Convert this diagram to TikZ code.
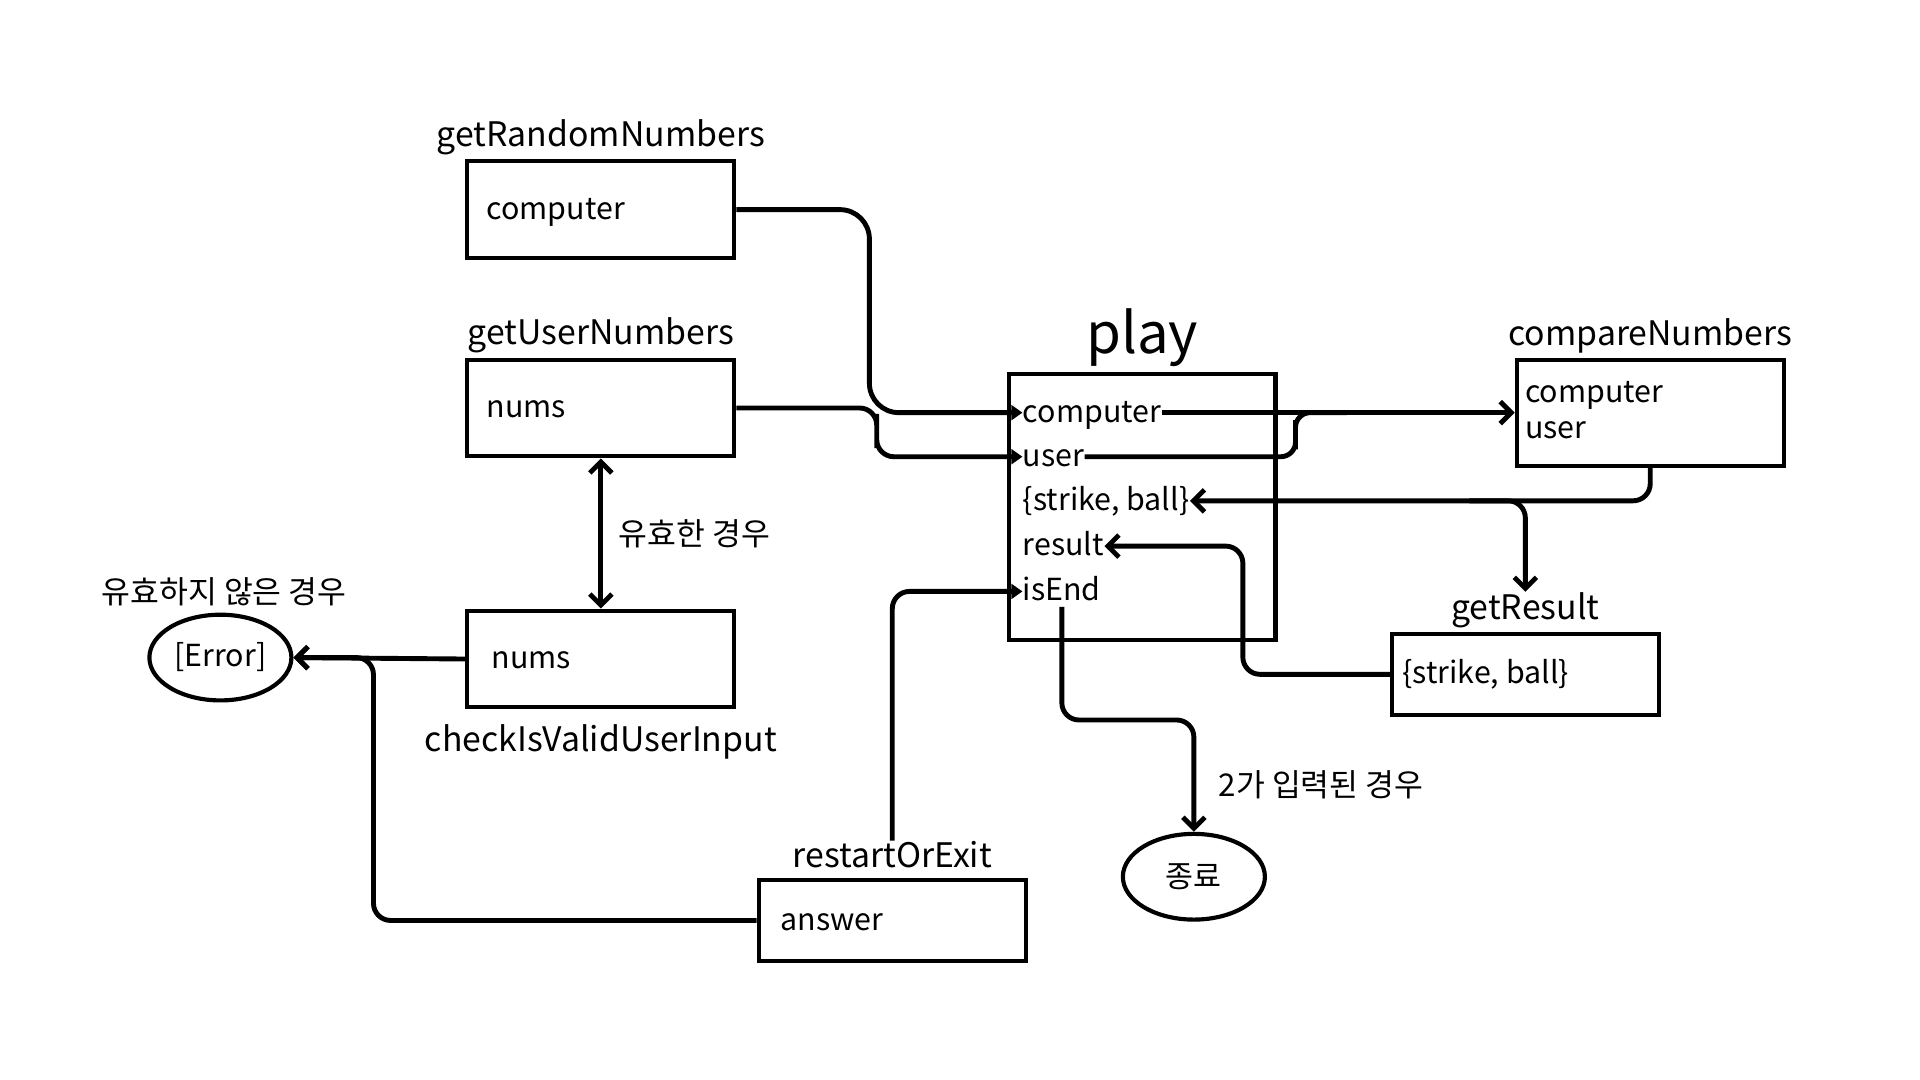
\documentclass[tikz,border=0pt]{standalone}
\usepackage{fontspec}
\setmainfont{Noto Sans CJK KR}
\usetikzlibrary{positioning,shapes.geometric,arrows.meta}

\tikzset{
  fnbox/.style={draw, line width=1.7pt, inner sep=0pt, anchor=north west, minimum width=109pt, minimum height=39.5pt},
  fnname/.style={inner sep=0pt, font=\fontsize{13.8}{16}\selectfont},
  field/.style={anchor=west, inner sep=0pt, text height=1em, text depth=0.22em, font=\fontsize{12.4}{15}\selectfont},
  note/.style={inner sep=0pt, font=\fontsize{12.8}{15}\selectfont},
  endpt/.style={draw, ellipse, line width=1.7pt, minimum width=58pt, minimum height=35pt, inner sep=0pt, font=\fontsize{12.4}{15}\selectfont},
  link/.style={line width=2pt, rounded corners=7pt, -{Straight Barb[length=4.5pt,width=9pt]}},
  feed/.style={line width=2pt, rounded corners=7pt, -{Triangle[length=4.5pt,width=6pt]}},
}

\begin{document}
\begin{tikzpicture}[x=0.5pt,y=-0.5pt]
\useasboundingbox (0,0) rectangle (1568,882);

% function boxes
\node[fnbox] (rnd) at (380,130) {};
\node[fnbox] (usr) at (380,292) {};
\node[fnbox] (chk) at (380,497) {};
\node[fnbox, minimum height=33pt] (rst) at (618,717) {};
\node[fnbox, minimum height=108.5pt] (play) at (822,304) {};
\node[fnbox, minimum height=43.5pt] (cmp) at (1237,292) {};
\node[fnbox, minimum height=33pt] (res) at (1135,516) {};

% function names
\node[fnname, above=1.5pt of rnd] (rnd-name) {getRandomNumbers};
\node[fnname, above=1.5pt of usr] (usr-name) {getUserNumbers};
\node[fnname, below=6pt of chk] (chk-name) {checkIsValidUserInput};
\node[fnname, above=4pt of rst] (rst-name) {restartOrExit};
\node[fnname, above=2pt of play, font=\fontsize{23}{26}\selectfont] (play-name) {play};
\node[fnname, above=1.5pt of cmp] (cmp-name) {compareNumbers};
\node[fnname, above=1.5pt of res] (res-name) {getResult};

% fields
\node[field, right=8.5pt of rnd.west] (rnd-c) {computer};
\node[field, right=8.5pt of usr.west] (usr-n) {nums};
\node[field, right=10.5pt of chk.west] (chk-n) {nums};
\node[field, right=9.5pt of rst.west] (rst-a) {answer};
\node[field, right=5pt of res.west] (res-s) {\{strike, ball\}};
\node[field] (cmp-c) at (1245,321) {computer};
\node[field] (cmp-u) at (1245,350) {user};
\node[field] (play-c) at (835,337) {computer};
\node[field] (play-u) at (835,373) {user};
\node[field] (play-s) at (835,409) {\{strike, ball\}};
\node[field] (play-r) at (835,446) {result};
\node[field] (play-e) at (835,483) {isEnd};

% end points
\node[endpt] (err) at (180,537) {[Error]};
\node[endpt] (fin) at (975,716) {종료};

% notes
\node[note, anchor=west] (ok) at (505,436) {유효한 경우};
\node[note] (bad) at (183,483) {유효하지 않은 경우};
\node[note, anchor=west] (two) at (995,641) {2가 입력된 경우};

% connectors
\coordinate (split) at (1200,409);
\draw[feed, rounded corners=12pt] (rnd.east) -| (710,250) |- (play-c.west);
\draw[feed] (usr.east) -| (716,352) |- (play-u.west);
\draw[feed] (rst-name.north) |- (play-e.west);
\draw[link] (play-c.east) -- (play-c.east -| cmp.west);
\draw[line width=2pt, rounded corners=6pt] (play-u.east) -| (1058,355) |- (1100,337);
\draw[link] (cmp.south) |- (play-s.east);
\draw[link] (split) -| (res-name.north);
\draw[link] (res.west) -| (1015,500) |- (play-r.east);
\draw[link] (play-e.south) |- (920,588) -| (fin.north);
\draw[link, {Straight Barb[length=4.5pt,width=9pt]}-{Straight Barb[length=4.5pt,width=9pt]}] (usr.south) -- (chk.north);
\draw[link] (chk.west) -- (err.east);
\draw[link] (rst.west) -| (305,600) |- (err.east);

\end{tikzpicture}
\end{document}
